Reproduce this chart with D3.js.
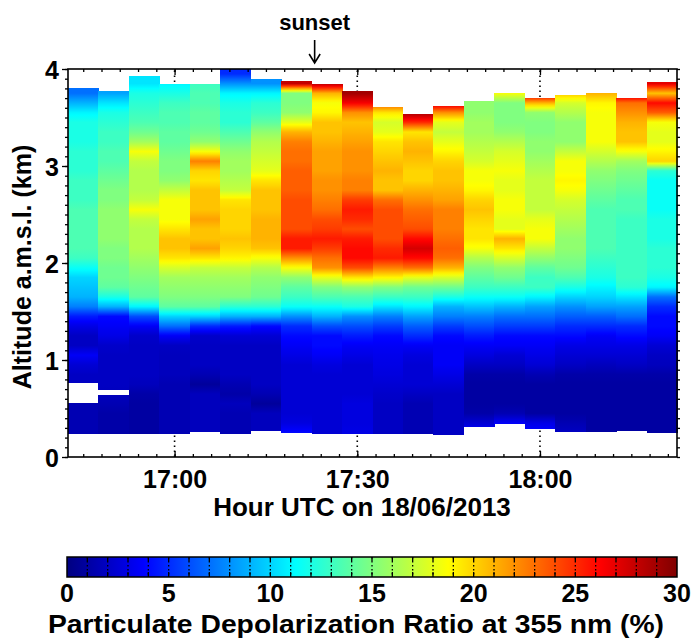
<!DOCTYPE html>
<html>
<head>
<meta charset="utf-8">
<script src="https://cdn.jsdelivr.net/npm/d3@7/dist/d3.min.js"></script>
<style>
  body { margin: 0; background: #fff; }
  text { font-family: "Liberation Sans", Arial, sans-serif; font-weight: bold; fill: #000; }
</style>
</head>
<body>
<script>
// 5-minute profiles, centre time of each column
var times = ["16:45", "16:50", "16:55", "17:00", "17:05", "17:10", "17:15", "17:20", "17:25", "17:30",
             "17:35", "17:40", "17:45", "17:50", "17:55", "18:00", "18:05", "18:10", "18:15", "18:20"];
// highest / lowest altitude with data (km)
var tops = [3.80, 3.77, 3.93, 3.85, 3.85, 4.00, 3.90, 3.88, 3.85, 3.77,
            3.61, 3.54, 3.62, 3.67, 3.75, 3.70, 3.73, 3.75, 3.70, 3.87];
var bottoms = [0.24, 0.24, 0.24, 0.24, 0.26, 0.24, 0.27, 0.25, 0.24, 0.24,
               0.24, 0.24, 0.23, 0.31, 0.34, 0.29, 0.26, 0.26, 0.27, 0.25];
// altitude levels (km) for the profile values
var altitudes = [0.25, 0.35, 0.45, 0.55, 0.65, 0.75, 0.85, 0.95, 1.05, 1.15, 1.25, 1.35, 1.45,
                 1.55, 1.65, 1.75, 1.85, 1.95, 2.05, 2.15, 2.25, 2.35, 2.45, 2.55, 2.65, 2.75,
                 2.85, 2.95, 3.05, 3.15, 3.25, 3.35, 3.45, 3.55, 3.65, 3.75, 3.85, 3.95];
// particulate depolarization ratio (%) per column, from lowest level upwards
var profiles = [
  [1.5,1.5,1.5,1.5,2,2,2,2.5,3.5,2,2,3,4.5,7.5,9,9.5,10,11.5,13,13.5,13.5,13.5,13.5,13.5,13,13,13,12.5,12.5,12.5,12,12,12,11,9,7],
  [1.2,1.2,1.2,1.5,1.8,2,2,2,2,2.2,3,3.5,4,9,12,14,14.5,14.5,15,15,15.5,15.5,15.5,15.5,15,15,14.5,14,13.5,13.5,13,13,12.5,12,10.5,8.5],
  [1,1,1,1,1.2,1.8,2,2,2,2,2.2,3.5,6,11,14,14.5,15,15.5,16,16.5,16.5,16.5,17,18.5,17,16.5,16.5,16.5,17,18.5,16,14.5,13.5,13,12.5,12,10.5],
  [1.5,1.5,1.5,1.5,1.5,1.5,1.8,1.8,1.8,2,3.5,7,10,14,15,15.5,16,17.5,19.5,20.5,20.5,19.5,18.5,18.5,18.5,17,15.5,15,15,14.5,14,14,13.5,13.5,13,12,11],
  [1.8,1.8,1.8,1.8,1.8,0.8,1.5,2,2,2,2.2,5,10,14,15,15.5,16,17,19.5,21.5,20.5,20.5,21.5,20.5,20.5,20.5,19.5,20,22.5,18.5,15.5,14.5,14,14,13.5,13.5,13],
  [1.5,1.5,1.5,1.8,1.2,1.5,2,2,2,2,2.5,4.5,9,12.5,15,15.5,16,17,19,20,20.5,20,20,20,19.5,17,16.5,16,16,15.5,14.5,13.5,12.5,12.5,12,11,8,5],
  [1.8,1.8,1.8,0.8,1.5,2,2,2,2,2,2.5,4,9,12.5,14.5,15,15.5,16.5,18.5,20.5,21,21,21,20.5,20.5,20.5,19.5,18,17.5,17,16.5,15.5,14,13,12.5,11,8],
  [4,2.8,2.5,2.5,2.5,2.5,2.5,2.5,3,3.5,4,5,8,11.5,13,14,15.5,18.5,22,25.5,25.5,24,24,24,24,23.5,23.5,23.5,23,23,22.5,21,18,15.5,15,15,28],
  [2.5,2.5,2.5,2.5,2.5,2.5,2.5,2.8,3.5,4,4,6,9,11.5,13.5,15,18,22,23,24.5,25.5,24.5,24,23,22.5,22,22,21.5,21.5,21.5,21,20.5,20.5,19,18.5,21,28.5],
  [3,2.8,2.8,2.8,2.5,2.5,2.5,2.5,3,3.5,4.5,6,8,12,13.5,15.5,19.5,24,26,26,25.5,24,25,25.5,24.5,22.5,22.5,22,22,22,21.5,21,20.5,22,26.5,29],
  [2,2,2,2,2.2,2.5,2.8,3,3.2,3.5,4,5.5,7.5,10.5,13,15,19,22.5,25.5,25,24,24,24,24,23,20.5,20.5,21,20.5,20,19.5,18,17.5,19.5,24],
  [1.5,1.5,1.5,1.5,2,2.5,2.5,2.5,2.8,3.5,5,6.5,8.5,11,13,14.5,18,23,26,27.5,26,24,23.5,23,22,21,20,20,20.5,21,20.5,19.5,25,29],
  [2,2,2,2,2,2.5,3,3.5,3.5,3.5,4,5.5,7.5,9,12,14.5,17.5,21,23,23.5,23,22.5,22.5,22.5,21.5,21,20.5,20.5,20,19,18,17,18,22,28],
  [4,2.5,1.2,1,1,1,1.2,2,2.8,3.5,4.5,6,7.5,9.5,11.5,13,14,15,16.5,18.5,19.5,19.5,20,20.5,20,19,18.5,18.5,17.5,17,16.5,16,16,15.5,15.5],
  [4,3.5,1.5,1,1,1,1.2,2,2.5,3.5,4,5.5,7,9,11.5,13,14.5,15.5,17.5,19.5,21,18,18,18.5,18.5,18,18,18.5,18,17.5,16.5,15.5,15,15,15,18.5],
  [4,3,1,1,1,1,1.5,2.5,3,3.5,4,5.5,7,8.5,11,13,13,14,15.5,17,18.5,18.5,18,17,17,17,17,16.5,16,15.5,15.5,15,15,15.5,21,28],
  [2,1.5,1,1,1,1,1.2,2,2.5,3,4,5,6.5,8,10,12,13.5,14.5,15,15.5,15.5,16,16.5,17,17.5,18.5,19,18.5,18.5,17,15.5,15.5,15.5,16.5,17.5,20.5],
  [1,1,1,1,1,1,1.2,1.8,2.5,3,3.5,5,6.5,8.5,10,11,12,12.5,13,13.5,13.5,13.5,13.5,13.5,14,14.5,15,15.5,16.5,17.5,18.5,18.5,18.5,18.5,19,21],
  [1,1,1,1,1,1,1.2,2,2.5,3,4,5,7,8.5,10.5,12.5,13,13,13,13,13,13,13,13.5,13.5,14,14.5,15,16,18.5,20.5,20.5,21,22,23,28.5],
  [1,1,1,1,1,1,1.2,1.8,2,2.5,3.5,4,4,5,7,11,12,12.5,12.5,12.5,12,12,12,11.5,11.5,11.5,11.5,12.5,20,19,18,18,18.5,23.5,26,20.5,27]
];
// missing data inside a profile: [column, from km, to km]
var gaps = [[0, 0.56, 0.76], [1, 0.64, 0.69]];
var sunsetTime = "17:23";
var xTickLabels = ["17:00", "17:30", "18:00"];
var yTickLabels = [0, 1, 2, 3, 4];
var cbarTickLabels = [0, 5, 10, 15, 20, 25, 30];

var W = 692, H = 639;
var parseT = d3.timeParse("%H:%M");
var halfBin = 2.5 * 60 * 1000;

// jet colormap
function jet(t) {
  function c(v) { return Math.max(0, Math.min(1, v)); }
  return d3.rgb(255 * c(1.5 - Math.abs(4 * t - 3)),
                255 * c(1.5 - Math.abs(4 * t - 2)),
                255 * c(1.5 - Math.abs(4 * t - 1))).toString();
}
var color = d3.scaleSequential(jet).domain([0, 30]);

var tStart = parseT(times[0]), tEnd = parseT(times[times.length - 1]);
var x = d3.scaleTime()
  .domain([new Date(+tStart - halfBin), new Date(+tEnd + halfBin)])
  .range([68, 677]);
var y = d3.scaleLinear().domain([0, 4]).range([457, 69]);

var svg = d3.select("body").append("svg").attr("width", W).attr("height", H);
var defs = svg.append("defs");

// dotted grid at major times (drawn below the image)
svg.append("g").selectAll("line").data(xTickLabels).enter().append("line")
  .attr("x1", d => x(parseT(d))).attr("x2", d => x(parseT(d)))
  .attr("y1", y(0)).attr("y2", y(4))
  .attr("stroke", "#000").attr("stroke-width", 1.6).attr("stroke-dasharray", "1.6,3.4");

// one vertical gradient per column
profiles.forEach(function (vals, i) {
  var n = vals.length;
  var g = defs.append("linearGradient").attr("id", "col" + i)
    .attr("gradientUnits", "userSpaceOnUse")
    .attr("x1", 0).attr("x2", 0)
    .attr("y1", y(altitudes[0])).attr("y2", y(altitudes[n - 1]));
  for (var k = 0; k < n; k++) {
    g.append("stop").attr("offset", k / (n - 1)).attr("stop-color", color(vals[k]));
    if (k < n - 1) {
      // sub-stops so the blend follows the colormap instead of plain rgb
      for (var s = 1; s < 4; s++) {
        var f = s / 4;
        g.append("stop").attr("offset", (k + f) / (n - 1))
          .attr("stop-color", color(vals[k] + f * (vals[k + 1] - vals[k])));
      }
    }
  }
});

var plot = svg.append("g");
plot.selectAll("rect.col").data(times).enter().append("rect")
  .attr("class", "col")
  .attr("x", d => x(new Date(+parseT(d) - halfBin)))
  .attr("width", d => x(new Date(+parseT(d) + halfBin)) - x(new Date(+parseT(d) - halfBin)) + 0.5)
  .attr("y", (d, i) => y(Math.min(4, tops[i])))
  .attr("height", (d, i) => y(bottoms[i]) - y(Math.min(4, tops[i])))
  .attr("fill", (d, i) => "url(#col" + i + ")")
  .attr("shape-rendering", "crispEdges");

plot.selectAll("rect.gap").data(gaps).enter().append("rect")
  .attr("class", "gap")
  .attr("x", d => x(new Date(+parseT(times[d[0]]) - halfBin)))
  .attr("width", d => x(new Date(+parseT(times[d[0]]) + halfBin)) - x(new Date(+parseT(times[d[0]]) - halfBin)))
  .attr("y", d => y(d[2])).attr("height", d => y(d[1]) - y(d[2]))
  .attr("fill", "#fff").attr("shape-rendering", "crispEdges");

// axes
var minorX = d3.timeMinute.every(3);
var majorTimes = xTickLabels.map(parseT);
var fmt = d3.timeFormat("%H:%M");

var bottomAx = svg.append("g").attr("transform", "translate(0," + y(0) + ")")
  .call(d3.axisBottom(x).ticks(minorX).tickSize(-3).tickFormat(""));
var bottomMajor = svg.append("g").attr("transform", "translate(0," + y(0) + ")")
  .call(d3.axisBottom(x).tickValues(majorTimes).tickSize(-6).tickPadding(13).tickFormat(fmt));
var topAx = svg.append("g").attr("transform", "translate(0," + y(4) + ")")
  .call(d3.axisTop(x).ticks(minorX).tickSize(-3).tickFormat(""));
var topMajor = svg.append("g").attr("transform", "translate(0," + y(4) + ")")
  .call(d3.axisTop(x).tickValues(majorTimes).tickSize(-6).tickFormat(""));

var minorY = d3.range(0, 4.001, 0.1);
var leftAx = svg.append("g").attr("transform", "translate(" + x.range()[0] + ",0)")
  .call(d3.axisLeft(y).tickValues(minorY).tickSize(3).tickFormat(""));
var leftMajor = svg.append("g").attr("transform", "translate(" + x.range()[0] + ",0)")
  .call(d3.axisLeft(y).tickValues(yTickLabels).tickSize(6).tickPadding(3).tickFormat(d3.format("d")));
var rightAx = svg.append("g").attr("transform", "translate(" + x.range()[1] + ",0)")
  .call(d3.axisRight(y).tickValues(minorY).tickSize(3).tickFormat(""));

[bottomAx, bottomMajor, topAx, topMajor, leftAx, leftMajor, rightAx].forEach(function (a) {
  a.select(".domain").remove();
  a.selectAll("line").attr("stroke", "#000").attr("stroke-width", 1.3);
  a.selectAll("text").attr("font-size", "25px").attr("font-family", null).attr("fill", "#000");
});
leftMajor.selectAll("text").attr("dy", "0.36em");

svg.append("rect")
  .attr("x", x.range()[0]).attr("y", y(4))
  .attr("width", x.range()[1] - x.range()[0]).attr("height", y(0) - y(4))
  .attr("fill", "none").attr("stroke", "#000").attr("stroke-width", 1.6);

svg.append("text").attr("x", 362).attr("y", 516).attr("text-anchor", "middle")
  .attr("font-size", "26px").text("Hour UTC on 18/06/2013");
svg.append("text").attr("transform", "translate(31," + ((y(0) + y(4)) / 2 + 4) + ") rotate(-90)")
  .attr("text-anchor", "middle").attr("font-size", "25px").text("Altitude a.m.s.l. (km)");

// sunset marker
var xs = x(parseT(sunsetTime));
svg.append("text").attr("x", xs).attr("y", 30).attr("text-anchor", "middle")
  .attr("font-size", "22px").text("sunset");
svg.append("path")
  .attr("d", "M" + xs + ",40V63M" + (xs - 5.5) + ",54L" + xs + ",63L" + (xs + 5.5) + ",54")
  .attr("fill", "none").attr("stroke", "#000").attr("stroke-width", 1.6);

// colorbar
var cx = d3.scaleLinear().domain([0, 30]).range([67, 677]);
var cbTop = 557, cbH = 20;
var cg = defs.append("linearGradient").attr("id", "cbar");
[0, 0.125, 0.375, 0.625, 0.875, 1].forEach(function (t) {
  cg.append("stop").attr("offset", t).attr("stop-color", jet(t));
});
svg.append("rect").attr("x", cx(0)).attr("y", cbTop)
  .attr("width", cx(30) - cx(0)).attr("height", cbH)
  .attr("fill", "url(#cbar)").attr("stroke", "#000").attr("stroke-width", 1.5);
var cbTicks = d3.range(1, 30);
var cb = svg.append("g");
cb.selectAll("line.dot").data(cbTicks).enter().append("line")
  .attr("x1", d => cx(d)).attr("x2", d => cx(d))
  .attr("y1", cbTop).attr("y2", cbTop + cbH)
  .attr("stroke", "#000").attr("stroke-width", 1.3).attr("stroke-dasharray", "1.5,2.5");
cb.selectAll("line.bt").data(cbTicks).enter().append("line")
  .attr("x1", d => cx(d)).attr("x2", d => cx(d))
  .attr("y1", cbTop + cbH - 5).attr("y2", cbTop + cbH)
  .attr("stroke", "#000").attr("stroke-width", 1.3);
cb.selectAll("line.tt").data(cbTicks).enter().append("line")
  .attr("x1", d => cx(d)).attr("x2", d => cx(d))
  .attr("y1", cbTop).attr("y2", cbTop + 4)
  .attr("stroke", "#000").attr("stroke-width", 1.3);
cb.selectAll("text").data(cbarTickLabels).enter().append("text")
  .attr("x", d => cx(d)).attr("y", 602).attr("text-anchor", "middle")
  .attr("font-size", "25px").text(d => d);
svg.append("text").attr("x", 356).attr("y", 633).attr("text-anchor", "middle")
  .attr("font-size", "25px").attr("textLength", 616).attr("lengthAdjust", "spacingAndGlyphs")
  .text("Particulate Depolarization Ratio at 355 nm (%)");
</script>
</body>
</html>
